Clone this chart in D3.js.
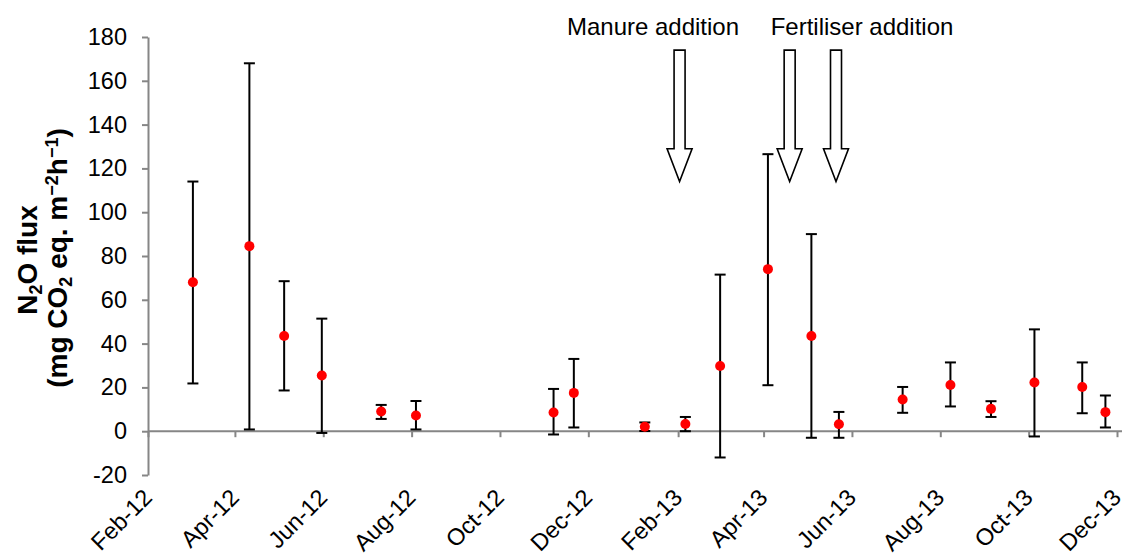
<!DOCTYPE html>
<html>
<head>
<meta charset="utf-8">
<script src="https://cdn.jsdelivr.net/npm/d3@7"></script>
<style>
  html, body { margin: 0; padding: 0; background: #fff; }
  svg { display: block; font-family: "Liberation Sans", Arial, sans-serif; }
</style>
</head>
<body>
<div id="chart"></div>
<script>
(function () {
  "use strict";

  /* ---- Data ---- */
  var sampleDates = [
    "2012-03-03", "2012-04-11", "2012-05-05", "2012-05-31", "2012-07-11",
    "2012-08-04", "2012-11-07", "2012-11-21", "2013-01-09", "2013-02-06",
    "2013-03-02", "2013-04-04", "2013-05-04", "2013-05-23", "2013-07-06",
    "2013-08-08", "2013-09-05", "2013-10-05", "2013-11-07", "2013-11-23"
  ];
  var fluxMean  = [68, 84.5, 43.5, 25.4, 9, 7.2, 8.5, 17.5, 2, 3.3,
                   29.8, 74, 43.5, 3.2, 14.5, 21.1, 10.2, 22.2, 20.2, 8.7];
  var fluxUpper = [114, 168, 68.5, 51.4, 12, 13.8, 19.3, 33, 4, 6.5,
                   71.5, 126.5, 90, 8.8, 20.2, 31.4, 13.7, 46.5, 31.4, 16.3];
  var fluxLower = [21.8, 0.8, 18.6, -0.8, 5.6, 0.8, -1.5, 1.7, 0.1, 0,
                   -12, 21, -3, -3, 8.4, 11.3, 6.5, -2.4, 8.2, 1.7];

  var yTicks = [-20, 0, 20, 40, 60, 80, 100, 120, 140, 160, 180];
  var xTickLabels = ["Feb-12", "Apr-12", "Jun-12", "Aug-12", "Oct-12", "Dec-12",
                     "Feb-13", "Apr-13", "Jun-13", "Aug-13", "Oct-13", "Dec-13"];

  var manureDates = ["2013-02-02"];
  var fertiliserDates = ["2013-04-19", "2013-05-21"];

  /* ---- Setup ---- */
  var W = 1122, H = 559;
  var parseDay = d3.utcParse("%Y-%m-%d");
  var parseTick = d3.utcParse("%b-%y");
  var axisCol = "#868686";
  var fontSize = 23.5;

  var x = d3.scaleUtc()
    .domain([parseDay("2012-02-01"), parseDay("2013-12-01")])
    .range([148, 1117]);
  var y = d3.scaleLinear().domain([-20, 180]).range([475, 37]);

  var svg = d3.select("#chart").append("svg")
    .attr("width", W).attr("height", H)
    .attr("viewBox", "0 0 " + W + " " + H);

  svg.append("rect").attr("width", W).attr("height", H).attr("fill", "#fff");

  /* ---- Y axis ---- */
  var gy = svg.append("g")
    .attr("transform", "translate(" + x.range()[0] + ",0)")
    .call(d3.axisLeft(y).tickValues(yTicks).tickSize(6).tickSizeOuter(0).tickPadding(15)
      .tickFormat(function (d) { return String(d); }));
  gy.select(".domain").attr("stroke", axisCol).attr("stroke-width", 2);
  gy.selectAll(".tick line").attr("stroke", axisCol).attr("stroke-width", 2);
  gy.selectAll(".tick text")
    .attr("fill", "#000")
    .style("font-family", "'Liberation Sans', Arial, sans-serif")
    .style("font-size", fontSize + "px");

  /* ---- X axis (at y = 0) ---- */
  var xTicks = xTickLabels.map(function (s) { return parseTick(s); });
  var gx = svg.append("g")
    .attr("transform", "translate(0," + y(0) + ")")
    .call(d3.axisBottom(x).tickValues(xTicks).tickSize(6).tickSizeOuter(0)
      .tickFormat(function (d, i) { return xTickLabels[i]; }));
  gx.select(".domain").remove();
  gx.append("line")
    .attr("x1", x.range()[0]).attr("x2", W)
    .attr("stroke", axisCol).attr("stroke-width", 2);
  gx.selectAll(".tick line").attr("stroke", axisCol).attr("stroke-width", 2);
  gx.selectAll(".tick text")
    .attr("fill", "#000")
    .attr("x", null).attr("y", null).attr("dy", null)
    .attr("text-anchor", "end")
    .attr("transform", "translate(5," + (499 - y(0)) + ") rotate(-45)")
    .style("font-family", "'Liberation Sans', Arial, sans-serif")
    .style("font-size", fontSize + "px");

  /* ---- Y label ---- */
  var yl = svg.append("g")
    .attr("font-weight", "bold")
    .attr("font-size", 28)
    .attr("fill", "#000");
  var l1 = yl.append("text")
    .attr("transform", "translate(37,260) rotate(-90)")
    .attr("text-anchor", "middle");
  l1.append("tspan").text("N");
  l1.append("tspan").attr("font-size", 18).attr("dy", 5).text("2");
  l1.append("tspan").attr("dy", -5).text("O flux");

  var l2 = yl.append("text")
    .attr("transform", "translate(67,258) rotate(-90)")
    .attr("text-anchor", "middle");
  l2.append("tspan").text("(mg CO");
  l2.append("tspan").attr("font-size", 18).attr("dy", 5).text("2");
  l2.append("tspan").attr("dy", -5).text(" eq. m");
  l2.append("tspan").attr("font-size", 18).attr("dy", -9).text("\u22122");
  l2.append("tspan").attr("dy", 9).text("h");
  l2.append("tspan").attr("font-size", 18).attr("dy", -9).text("\u22121");
  l2.append("tspan").attr("dy", 9).text(")");

  /* ---- Error bars + points ---- */
  var data = sampleDates.map(function (d, i) {
    return { date: parseDay(d), mean: fluxMean[i], hi: fluxUpper[i], lo: fluxLower[i] };
  });
  var capW = 5.5;
  var bars = svg.append("g").attr("stroke", "#000").attr("stroke-width", 2);
  data.forEach(function (d) {
    var cx = x(d.date);
    bars.append("line").attr("x1", cx).attr("x2", cx).attr("y1", y(d.hi)).attr("y2", y(d.lo));
    bars.append("line").attr("x1", cx - capW).attr("x2", cx + capW).attr("y1", y(d.hi)).attr("y2", y(d.hi));
    bars.append("line").attr("x1", cx - capW).attr("x2", cx + capW).attr("y1", y(d.lo)).attr("y2", y(d.lo));
  });
  svg.append("g").selectAll("circle").data(data).enter().append("circle")
    .attr("cx", function (d) { return x(d.date); })
    .attr("cy", function (d) { return y(d.mean); })
    .attr("r", 5)
    .attr("fill", "#ff0000");

  /* ---- Arrows + annotations ---- */
  var arrowTop = 174, arrowNeck = 129, arrowTip = 114;
  var shaftHalf = 5.5, headHalf = 12.5;
  function arrow(dateStr) {
    var cx = x(parseDay(dateStr));
    var t = y(arrowTop), n = y(arrowNeck), tip = y(arrowTip);
    var pts = [
      [cx - shaftHalf, t], [cx + shaftHalf, t], [cx + shaftHalf, n],
      [cx + headHalf, n], [cx, tip], [cx - headHalf, n], [cx - shaftHalf, n]
    ];
    svg.append("path")
      .attr("d", "M" + pts.join("L") + "Z")
      .attr("fill", "#fff").attr("stroke", "#000").attr("stroke-width", 1.6);
  }
  manureDates.forEach(arrow);
  fertiliserDates.forEach(arrow);

  svg.append("text")
    .attr("x", 653).attr("y", 35)
    .attr("text-anchor", "middle")
    .attr("font-size", 24)
    .text("Manure addition");
  svg.append("text")
    .attr("x", 862).attr("y", 35)
    .attr("text-anchor", "middle")
    .attr("font-size", 24)
    .text("Fertiliser addition");
})();
</script>
</body>
</html>
